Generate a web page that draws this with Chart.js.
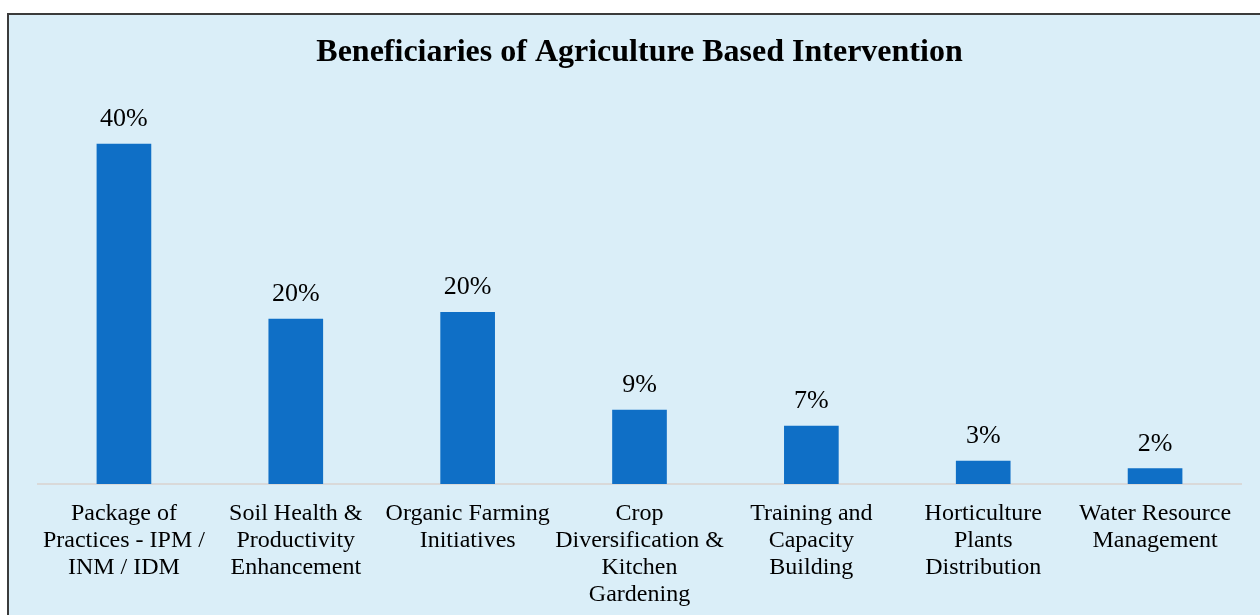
<!DOCTYPE html>
<html>
<head>
<meta charset="utf-8">
<script src="https://cdn.jsdelivr.net/npm/chart.js@4.4.1/dist/chart.umd.min.js"></script>
<style>
  html, body { margin: 0; padding: 0; width: 1260px; height: 615px; overflow: hidden; background: #ffffff; }
  #frame { position: absolute; left: 7px; top: 13px; width: 1300px; height: 700px; background: #DAEEF8; border: 2px solid #3b3b3b; box-sizing: border-box; }
  #wrap { position: absolute; left: 0; top: 0; width: 1260px; height: 660px; }
</style>
</head>
<body>
<div id="frame"></div>
<div id="wrap"><canvas id="c" width="1260" height="660"></canvas></div>
<script>
const chartTitle = 'Beneficiaries of Agriculture Based Intervention';
const categories = [
  ['Package of', 'Practices - IPM /', 'INM / IDM'],
  ['Soil Health &', 'Productivity', 'Enhancement'],
  ['Organic Farming', 'Initiatives'],
  ['Crop', 'Diversification &', 'Kitchen', 'Gardening'],
  ['Training and', 'Capacity', 'Building'],
  ['Horticulture', 'Plants', 'Distribution'],
  ['Water Resource', 'Management']
];
const shares = [40.0, 19.4, 20.2, 8.7, 6.8, 2.7, 1.8];
const shareLabels = ['40%', '20%', '20%', '9%', '7%', '3%', '2%'];

const valueLabelPlugin = {
  id: 'valueLabels',
  afterDatasetsDraw(chart) {
    const ctx = chart.ctx;
    const meta = chart.getDatasetMeta(0);
    ctx.save();
    ctx.font = '26px "Liberation Serif", "Times New Roman", serif';
    ctx.fillStyle = '#000000';
    ctx.textAlign = 'center';
    ctx.textBaseline = 'alphabetic';
    meta.data.forEach((bar, i) => {
      ctx.fillText(shareLabels[i], bar.x, bar.y - 18);
    });
    ctx.restore();
  }
};

new Chart(document.getElementById('c'), {
  type: 'bar',
  data: {
    labels: categories,
    datasets: [{
      data: shares,
      backgroundColor: '#0F6FC6',
      borderWidth: 0,
      barThickness: 54
    }]
  },
  options: {
    responsive: false,
    animation: false,
    events: [],
    layout: { padding: { left: 38, right: 19, top: 13, bottom: 36 } },
    plugins: {
      legend: { display: false },
      tooltip: { enabled: false },
      title: {
        display: true,
        text: chartTitle,
        color: '#000000',
        font: { family: '"Liberation Serif", "Times New Roman", serif', size: 32, weight: 'bold', lineHeight: 1.2 },
        padding: { top: 21, bottom: 17.6 }
      }
    },
    scales: {
      x: {
        grid: { display: false, drawTicks: false },
        border: { display: true, color: '#D9D9D9', width: 2 },
        ticks: {
          color: '#000000',
          padding: 16,
          maxRotation: 0,
          autoSkip: false,
          font: { family: '"Liberation Serif", "Times New Roman", serif', size: 24, lineHeight: 27 / 24 }
        }
      },
      y: {
        display: false,
        min: 0,
        max: 46.35
      }
    }
  },
  plugins: [valueLabelPlugin]
});
</script>
</body>
</html>
